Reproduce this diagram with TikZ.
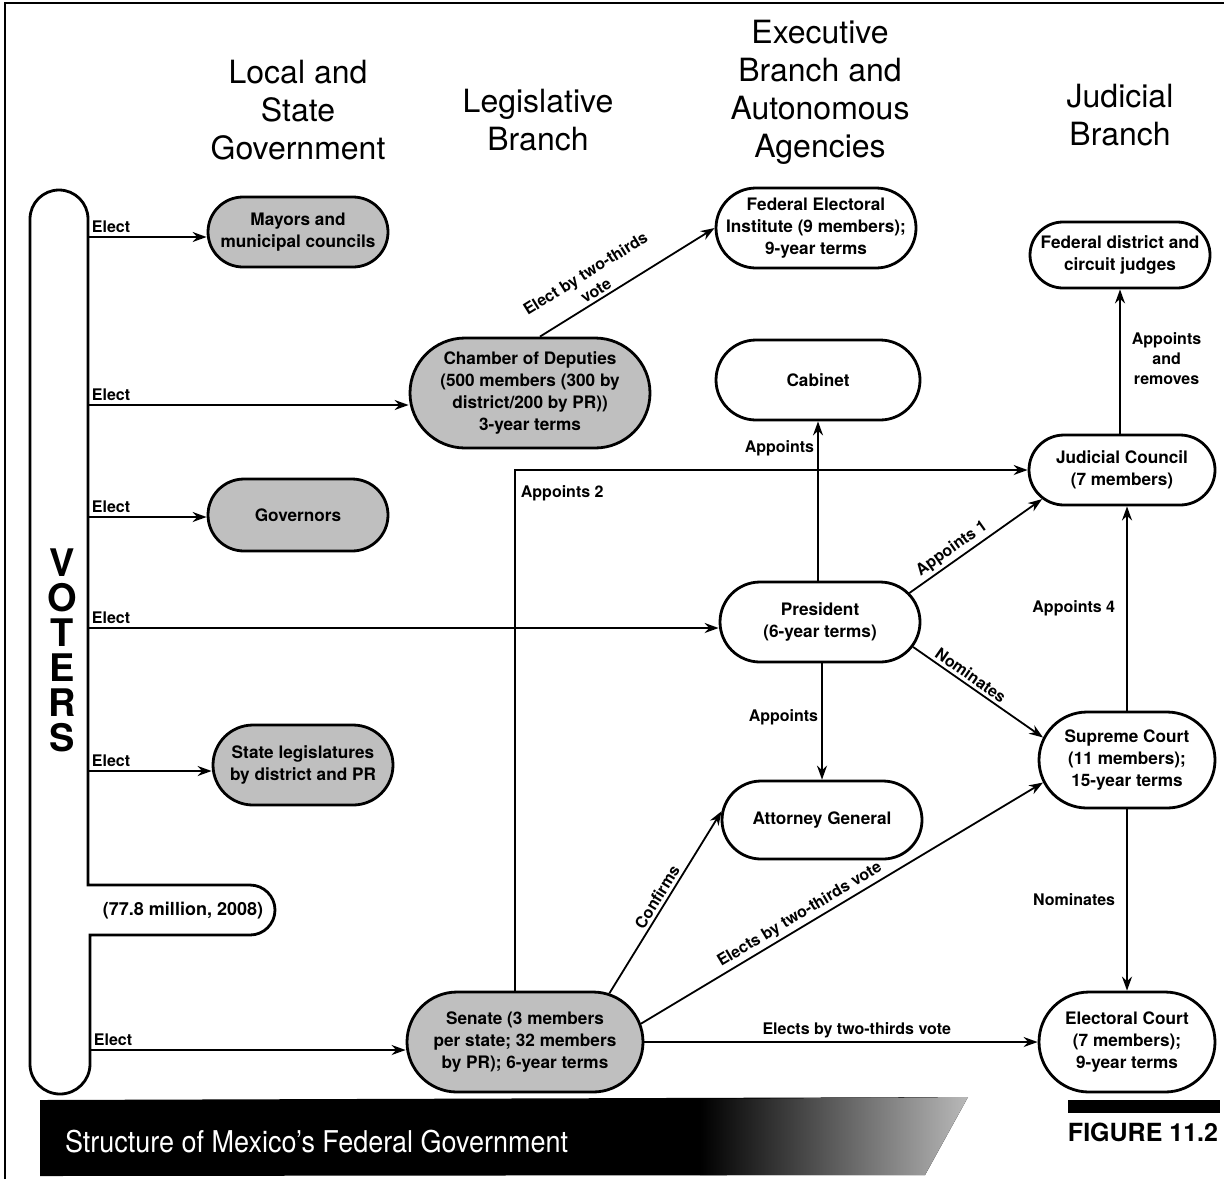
\documentclass[tikz,border=0pt]{standalone}
\usepackage{fontspec}
\setmainfont{TeX Gyre Heros}
\usetikzlibrary{shapes.misc,arrows.meta,calc}
\begin{document}
\begin{tikzpicture}[x=0.5pt,y=-0.5pt,
  pill/.style={rounded rectangle, draw, line width=1.4pt, fill=white, inner sep=0pt},
  dark/.style={pill, fill=gray!50},
  ptext/.style={align=center, inner sep=0pt, font=\bfseries\fontsize{8.6}{11}\selectfont},
  arr/.style={-{Stealth[length=7pt,width=5pt]}, line width=0.9pt},
  lab/.style={font=\bfseries\fontsize{8}{10}\selectfont, inner sep=1.5pt, align=center},
  head/.style={font=\fontsize{16}{19}\selectfont, align=center}]

\useasboundingbox (0,0) rectangle (1224,1179);
\draw[line width=0.8pt] (5,1179) -- (5,3) -- (1224,3);

% headers
\node[head] (hlocal) at (298,110) {Local and\\State\\Government};
\node[head] (hleg) at (538,120) {Legislative\\Branch};
\node[head] (hexec) at (820,92) {Executive\\Branch and\\Autonomous\\Agencies};
\node[head] (hjud) at (1120,115) {Judicial\\Branch};

% voters shape
\draw[line width=1.4pt, fill=white] (30,219) arc[start angle=180,end angle=360,radius=29] -- (88,885) -- (250,885) arc[start angle=270,end angle=450,radius=25] -- (90,935) -- (90,1064) arc[start angle=0,end angle=180,radius=30] -- cycle;
\node[font=\bfseries\fontsize{19}{17.5}\selectfont, align=center] (voters) at (62,650) {V\\O\\T\\E\\R\\S};
\node[font=\bfseries\fontsize{9}{11}\selectfont] (million) at (183,911) {(77.8 million, 2008)};

% dark nodes
\node[dark, minimum width=90pt, minimum height=35pt, label={[ptext]center:{Mayors and\\municipal councils}}] (mayors) at (298,232) {};
\node[dark, minimum width=120pt, minimum height=55pt, label={[ptext]center:{Chamber of Deputies\\(500 members (300 by\\district/200 by PR))\\3-year terms}}] (chamber) at (530,393) {};
\node[dark, minimum width=90pt, minimum height=36pt, label={[ptext]center:{Governors}}] (gov) at (298,515) {};
\node[dark, minimum width=90pt, minimum height=40pt, label={[ptext]center:{State legislatures\\by district and PR}}] (stleg) at (303,765) {};
\node[dark, minimum width=118pt, minimum height=50pt, label={[ptext]center:{Senate (3 members\\per state; 32 members\\by PR); 6-year terms}}] (senate) at (525,1042) {};

% white nodes
\node[pill, minimum width=100pt, minimum height=40pt, label={[ptext]center:{Federal Electoral\\Institute (9 members);\\9-year terms}}] (fei) at (816,228) {};
\node[pill, minimum width=102pt, minimum height=40pt, label={[ptext]center:{Cabinet}}] (cabinet) at (818,380) {};
\node[pill, minimum width=100pt, minimum height=40pt, label={[ptext]center:{President\\(6-year terms)}}] (pres) at (820,622) {};
\node[pill, minimum width=100pt, minimum height=39pt, label={[ptext]center:{Attorney General}}] (ag) at (822,820) {};
\node[pill, minimum width=90pt, minimum height=33pt, label={[ptext]center:{Federal district and\\circuit judges}}] (fdj) at (1120,255) {};
\node[pill, minimum width=93pt, minimum height=35pt, label={[ptext]center:{Judicial Council\\(7 members)}}] (jc) at (1122,470) {};
\node[pill, minimum width=88pt, minimum height=48pt, label={[ptext]center:{Supreme Court\\(11 members);\\15-year terms}}] (sc) at (1127,760) {};
\node[pill, minimum width=88pt, minimum height=50pt, label={[ptext]center:{Electoral Court\\(7 members);\\9-year terms}}] (ec) at (1127,1042) {};

% voter coordinates
\coordinate (v1) at (88,237);
\coordinate (v2) at (88,405);
\coordinate (v3) at (88,517);
\coordinate (v4) at (88,628);
\coordinate (v5) at (88,771);
\coordinate (v6) at (90,1050);
\coordinate (c2) at (515,470);

\draw[arr] (v1) -- node[lab, pos=0, anchor=south west]{Elect} (v1 -| mayors.west);
\draw[arr] (v2) -- node[lab, pos=0, anchor=south west]{Elect} (v2 -| chamber.west);
\draw[arr] (v3) -- node[lab, pos=0, anchor=south west]{Elect} (v3 -| gov.west);
\draw[arr] (v4) -- node[lab, pos=0, anchor=south west]{Elect} (v4 -| pres.west);
\draw[arr] (v5) -- node[lab, pos=0, anchor=south west]{Elect} (v5 -| stleg.west);
\draw[arr] (v6) -- node[lab, pos=0, anchor=south west]{Elect} (v6 -| senate.west);

\draw[arr] (chamber.80) -- node[lab, sloped, above, pos=0.35]{Elect by two-thirds\\vote} (fei.west);
\draw[arr] (senate.north -| c2) -- (c2) node[lab, anchor=north west, xshift=1pt, yshift=-6pt]{Appoints 2} -- (jc.west);
\draw[arr] (pres.north -| cabinet.south) -- node[lab, left, pos=0.83]{Appoints} (cabinet.south);
\draw[arr] (pres.south -| ag.north) -- node[lab, left, pos=0.46]{Appoints} (ag.north);
\draw[arr] (pres.18) -- node[lab, sloped, above, pos=0.37]{Appoints 1} (jc.200);
\draw[arr] (pres.-15) -- node[lab, sloped, above, pos=0.4]{Nominates} (sc.165);
\draw[arr] (sc.north) -- node[lab, left=4pt, pos=0.5]{Appoints 4} (sc.north |- jc.south);
\draw[arr] (jc.north -| fdj.south) -- node[lab, right=4pt, pos=0.52]{Appoints\\and\\removes} (fdj.south);
\draw[arr] (sc.south) -- node[lab, left=4pt, pos=0.5]{Nominates} (ec.north);
\draw[arr] (senate.30) -- node[lab, sloped, above, pos=0.5]{Confirms} (ag.175);
\draw[arr] (senate.9) -- node[lab, sloped, above, pos=0.41]{Elects by two-thirds vote} (sc.195);
\draw[arr] (senate.east) -- node[lab, above, pos=0.54]{Elects by two-thirds vote} (ec.west);

% banner
\fill[black] (40,1100) -- (968,1097) -- (925,1175) -- (40,1176) -- cycle;
\shade[left color=black, right color=gray!55] (700,1099) -- (968,1097) -- (925,1175) -- (700,1175) -- cycle;
\node[anchor=west, text=white, font=\fontsize{15}{17}\selectfont] (caption) at (58,1142) {\scalebox{0.9}[1]{Structure of Mexico's Federal Government}};
\fill[black] (1068,1100) rectangle (1220,1113);
\node[font=\bfseries\fontsize{12.5}{14}\selectfont] (fig) at (1143,1132) {FIGURE 11.2};
\end{tikzpicture}
\end{document}
